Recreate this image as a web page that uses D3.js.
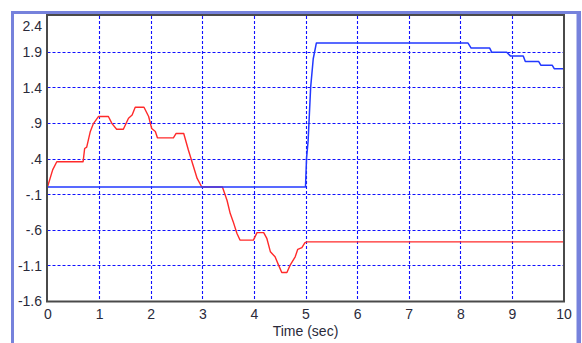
<!DOCTYPE html>
<html><head><meta charset="utf-8">
<script src="https://cdn.jsdelivr.net/npm/d3@7/dist/d3.min.js"></script>
<style>html,body{margin:0;padding:0;background:#fff;}svg{display:block;}</style>
</head><body>
<svg id="chart" width="582" height="343"></svg>
<script>
// ---- data ----
const xTicks = [0,1,2,3,4,5,6,7,8,9,10];
const yTicks = [2.4,1.9,1.4,0.9,0.4,-0.1,-0.6,-1.1,-1.6];
const yTickLabels = ["2.4","1.9","1.4",".9",".4","-.1","-.6","-1.1","-1.6"];
const xTitle = "Time (sec)";

const blueT = [0,5.0,5.02,5.05,5.1,5.15,5.21,8.15,8.21,8.57,8.61,8.90,8.97,9.22,9.26,9.52,9.56,9.78,9.82,10];
const blueV = [0,0,0.4,0.64,1.4,1.8,2.02,2.02,1.95,1.95,1.89,1.89,1.84,1.84,1.76,1.76,1.71,1.71,1.66,1.66];

const redT = [0,0.10,0.18,0.69,0.72,0.76,0.83,0.89,0.99,1.18,1.25,1.34,1.47,1.57,1.64,1.70,1.87,1.96,2.02,2.09,2.13,2.44,2.49,2.64,2.73,2.83,2.90,2.99,3.39,3.48,3.54,3.60,3.67,3.73,3.99,4.06,4.19,4.25,4.32,4.41,4.48,4.54,4.64,4.70,4.80,4.85,4.93,4.99,5.03,10];
const redV = [0,0.24,0.355,0.355,0.54,0.56,0.78,0.89,0.99,0.99,0.89,0.81,0.81,0.965,1.01,1.12,1.12,0.99,0.82,0.78,0.69,0.69,0.75,0.75,0.52,0.285,0.12,0,0,-0.19,-0.37,-0.49,-0.65,-0.745,-0.745,-0.64,-0.64,-0.72,-0.91,-0.98,-1.10,-1.20,-1.20,-1.10,-0.98,-0.875,-0.85,-0.78,-0.77,-0.77];

// ---- drawing ----
const svg = d3.select("#chart");
const L = 47.5, R = 563.5, T = 16, B = 301;
const x = d3.scaleLinear().domain([0,10]).range([L,R]);
const y = d3.scaleLinear().domain([-1.6,2.4]).range([B,T]);

// outer frame
svg.append("rect").attr("x",12.5).attr("y",12.5).attr("width",565.5).attr("height",340)
  .attr("fill","none").attr("stroke","#7682dc").attr("stroke-width",3);
svg.append("line").attr("x1",579).attr("x2",579).attr("y1",11).attr("y2",343)
  .attr("stroke","#7682dc").attr("stroke-width",4);

const gridColor = "#1010ff";
// vertical gridlines
svg.append("g").selectAll("line").data(xTicks.filter(d=>d>0&&d<10)).join("line")
  .attr("x1",d=>Math.round(x(d))+0.5).attr("x2",d=>Math.round(x(d))+0.5)
  .attr("y1",T).attr("y2",B)
  .attr("stroke",gridColor).attr("stroke-width",1.1).attr("stroke-dasharray","3,2");
// horizontal gridlines
svg.append("g").selectAll("line").data(yTicks.filter(d=>d>-1.6&&d<2.4)).join("line")
  .attr("y1",d=>Math.round(y(d))+0.5).attr("y2",d=>Math.round(y(d))+0.5)
  .attr("x1",L).attr("x2",R)
  .attr("stroke",gridColor).attr("stroke-width",1.1).attr("stroke-dasharray","3,2");

const line = d3.line().x(d=>x(d[0])).y(d=>y(d[1]));
const blue = blueT.map((t,i)=>[t,blueV[i]]);
const red = redT.map((t,i)=>[t,redV[i]]);

svg.append("path").datum(red).attr("d",line).attr("fill","none")
  .attr("stroke","#ff2a2a").attr("stroke-width",1.4).attr("stroke-linejoin","round");
svg.append("path").datum(blue).attr("d",line).attr("fill","none")
  .attr("stroke","#2238ff").attr("stroke-width",1.5).attr("stroke-linejoin","round");

// plot border
svg.append("rect").attr("x",L-0.5).attr("y",T-1).attr("width",R-L+1).attr("height",B-T+1.5)
  .attr("fill","none").attr("stroke","#4a4a4a").attr("stroke-width",2);

// axes labels
const font = "'Liberation Sans', Arial, sans-serif";
const yAxis = d3.axisLeft(y).tickValues(yTicks).tickFormat((d,i)=>yTickLabels[i]).tickSize(0).tickPadding(5);
const gy = svg.append("g").attr("transform",`translate(${L-0.5},0)`).call(yAxis);
gy.select(".domain").remove();
gy.selectAll("text").attr("font-family",font).attr("font-size",14).attr("fill","#2a2a3a")
  .attr("dy",(d)=> d===2.4 ? "1.0em" : "0.35em");

const xAxis = d3.axisBottom(x).tickValues(xTicks).tickFormat(d3.format("d")).tickSize(0).tickPadding(8);
const gx = svg.append("g").attr("transform",`translate(0,${B})`).call(xAxis);
gx.select(".domain").remove();
gx.selectAll("text").attr("font-family",font).attr("font-size",14).attr("fill","#2a2a3a");

svg.append("text").attr("x",(L+R)/2).attr("y",336).attr("text-anchor","middle")
  .attr("font-family",font).attr("font-size",14).attr("fill","#2a2a3a").text(xTitle);
</script>
</body></html>
